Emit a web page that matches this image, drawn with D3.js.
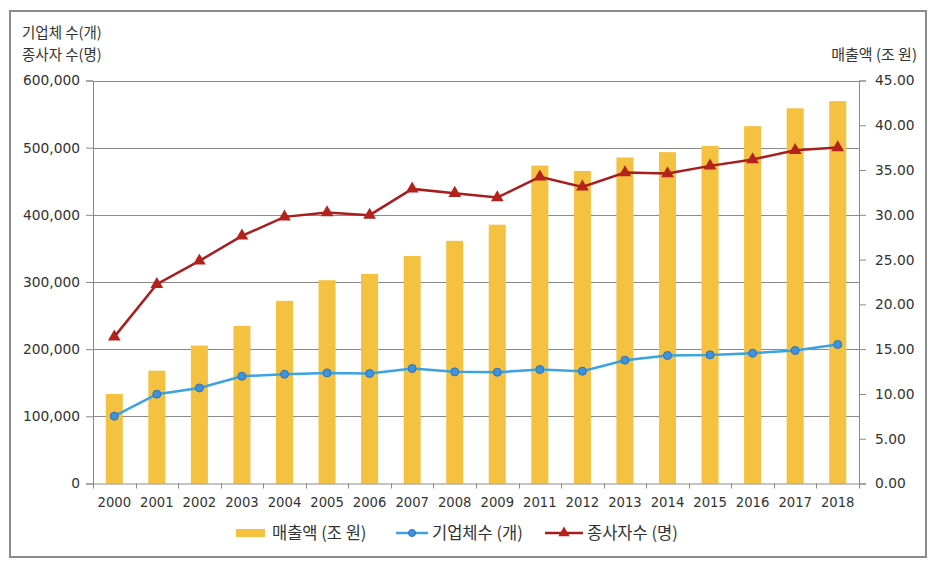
<!DOCTYPE html>
<html>
<head>
<meta charset="utf-8">
<script src="https://cdn.jsdelivr.net/npm/d3@7"></script>
<style>
  body { margin: 0; background: #fff; }
  svg text { font-family: "DejaVu Sans", sans-serif; fill: #333; }
  svg text.kr { font-family: "Noto Sans CJK KR", sans-serif; }
</style>
</head>
<body>
<div id="chart-area"><svg></svg></div>
<script>
const years = ["2000", "2001", "2002", "2003", "2004", "2005", "2006", "2007", "2008", "2009",
  "2011", "2012", "2013", "2014", "2015", "2016", "2017", "2018"];
// 매출액 (조 원) - right axis
const sales = [10.0, 12.6, 15.4, 17.6, 20.4, 22.7, 23.4, 25.4, 27.1, 28.9,
  35.5, 34.9, 36.4, 37.0, 37.7, 39.9, 41.9, 42.7];
// 기업체수 (개) - left axis
const firms = [100200, 133000, 142300, 159700, 162700, 164700, 163800, 171200, 166200, 165700,
  169700, 167200, 183600, 190600, 191500, 194000, 198000, 207000];
// 종사자수 (명) - left axis
const workers = [218300, 296700, 331400, 368600, 397000, 403500, 399500, 438600, 432200, 425800,
  456500, 441600, 463000, 461500, 472900, 482400, 496200, 500200];
const leftTicks = [0, 100000, 200000, 300000, 400000, 500000, 600000];
const rightTicks = [0, 5, 10, 15, 20, 25, 30, 35, 40, 45];

const chartSize = { width: 936, height: 566 };
const plot = { left: 93, right: 859, top: 80.5, bottom: 483.5 };

const svg = d3.select("#chart-area svg")
  .attr("width", chartSize.width)
  .attr("height", chartSize.height);

// outer frame
svg.append("rect")
  .attr("x", 10).attr("y", 11)
  .attr("width", 916).attr("height", 546)
  .attr("fill", "none")
  .attr("stroke", "#8c8c8c")
  .attr("stroke-width", 2);

const xScale = d3.scaleBand()
  .domain(years)
  .range([plot.left, plot.right])
  .paddingInner(0.6)
  .paddingOuter(0.3);

const yLeft = d3.scaleLinear().domain([0, 600000]).range([plot.bottom, plot.top]);
const yRight = d3.scaleLinear().domain([0, 45]).range([plot.bottom, plot.top]);

const centre = d => xScale(d) + xScale.bandwidth() / 2;

// gridlines
svg.append("g")
  .selectAll("line")
  .data(leftTicks.slice(1))
  .join("line")
  .attr("x1", plot.left).attr("x2", plot.right)
  .attr("y1", d => Math.round(yLeft(d)) + 0.5)
  .attr("y2", d => Math.round(yLeft(d)) + 0.5)
  .attr("stroke", "#8a8a8a")
  .attr("stroke-width", 1);

// bars
svg.append("g")
  .selectAll("rect")
  .data(years)
  .join("rect")
  .attr("x", d => xScale(d))
  .attr("width", xScale.bandwidth())
  .attr("y", (d, i) => yRight(sales[i]))
  .attr("height", (d, i) => yRight(0) - yRight(sales[i]))
  .attr("fill", "#f4c140");

// left axis
const leftAxis = svg.append("g")
  .attr("transform", `translate(${plot.left},0)`)
  .call(d3.axisLeft(yLeft).tickValues(leftTicks).tickSize(7).tickPadding(6)
    .tickFormat(d3.format(",")));
leftAxis.select(".domain").attr("stroke", "#8a8a8a");
leftAxis.selectAll(".tick line").attr("stroke", "#8a8a8a");
leftAxis.selectAll("text").attr("font-size", 13.8);

// right axis
const rightAxis = svg.append("g")
  .attr("transform", `translate(${plot.right},0)`)
  .call(d3.axisRight(yRight).tickValues(rightTicks).tickSize(7).tickPadding(9)
    .tickFormat(d3.format(".2f")));
rightAxis.select(".domain").attr("stroke", "#8a8a8a");
rightAxis.selectAll(".tick line").attr("stroke", "#8a8a8a");
rightAxis.selectAll("text").attr("font-size", 13.8);

// x axis
const xAxis = svg.append("g")
  .attr("transform", `translate(0,${plot.bottom})`)
  .call(d3.axisBottom(xScale).tickSize(0).tickPadding(14));
xAxis.select(".domain").attr("stroke", "#8a8a8a");
xAxis.selectAll("text").attr("font-size", 13.2);

const step = xScale.step();
const bounds = years.map(d => xScale(d) - step * 0.3).concat([plot.right]);
xAxis.selectAll(".bound")
  .data(bounds)
  .join("line")
  .attr("class", "bound")
  .attr("x1", d => Math.round(d) + 0.5).attr("x2", d => Math.round(d) + 0.5)
  .attr("y1", 0).attr("y2", 5)
  .attr("stroke", "#8a8a8a");

// lines
const valueLine = d3.line().x(d => centre(d.year)).y(d => yLeft(d.value));
const firmData = years.map((year, i) => ({ year, value: firms[i] }));
const workerData = years.map((year, i) => ({ year, value: workers[i] }));

svg.append("path")
  .datum(workerData)
  .attr("d", valueLine)
  .attr("fill", "none")
  .attr("stroke", "#a81e1e")
  .attr("stroke-width", 2.5);

svg.append("g")
  .selectAll("path")
  .data(workerData)
  .join("path")
  .attr("d", d3.symbol(d3.symbolTriangle, 70))
  .attr("transform", d => `translate(${centre(d.year)},${yLeft(d.value)})`)
  .attr("fill", "#b3231c");

svg.append("path")
  .datum(firmData)
  .attr("d", valueLine)
  .attr("fill", "none")
  .attr("stroke", "#3aa3e3")
  .attr("stroke-width", 2.5);

svg.append("g")
  .selectAll("circle")
  .data(firmData)
  .join("circle")
  .attr("cx", d => centre(d.year))
  .attr("cy", d => yLeft(d.value))
  .attr("r", 4)
  .attr("fill", "#3f93dc")
  .attr("stroke", "#2d6fb8")
  .attr("stroke-width", 1);

// axis titles
svg.append("text").attr("class", "kr")
  .attr("x", 22).attr("y", 38).attr("font-size", 14.5)
  .text("기업체 수(개)");
svg.append("text").attr("class", "kr")
  .attr("x", 22).attr("y", 60).attr("font-size", 14.5)
  .text("종사자 수(명)");
svg.append("text").attr("class", "kr")
  .attr("x", 917).attr("y", 60).attr("font-size", 15)
  .attr("text-anchor", "end")
  .text("매출액 (조 원)");

// legend
const legend = svg.append("g").attr("transform", "translate(0,533)");
legend.append("rect")
  .attr("x", 236).attr("y", -4).attr("width", 29).attr("height", 8)
  .attr("fill", "#f4c140");
legend.append("text").attr("class", "kr")
  .attr("x", 272).attr("y", 6).attr("font-size", 16.5)
  .text("매출액 (조 원)");

legend.append("line")
  .attr("x1", 396).attr("x2", 428).attr("y1", 0).attr("y2", 0)
  .attr("stroke", "#3aa3e3").attr("stroke-width", 2.5);
legend.append("circle")
  .attr("cx", 412).attr("cy", 0).attr("r", 3.5)
  .attr("fill", "#3f93dc").attr("stroke", "#2d6fb8");
legend.append("text").attr("class", "kr")
  .attr("x", 432).attr("y", 6).attr("font-size", 16.5)
  .text("기업체수 (개)");

legend.append("line")
  .attr("x1", 545).attr("x2", 583).attr("y1", 0).attr("y2", 0)
  .attr("stroke", "#a81e1e").attr("stroke-width", 2.5);
legend.append("path")
  .attr("d", d3.symbol(d3.symbolTriangle, 55))
  .attr("transform", "translate(564,0)")
  .attr("fill", "#b3231c");
legend.append("text").attr("class", "kr")
  .attr("x", 587).attr("y", 6).attr("font-size", 16.5)
  .text("종사자수 (명)");
</script>
</body>
</html>
